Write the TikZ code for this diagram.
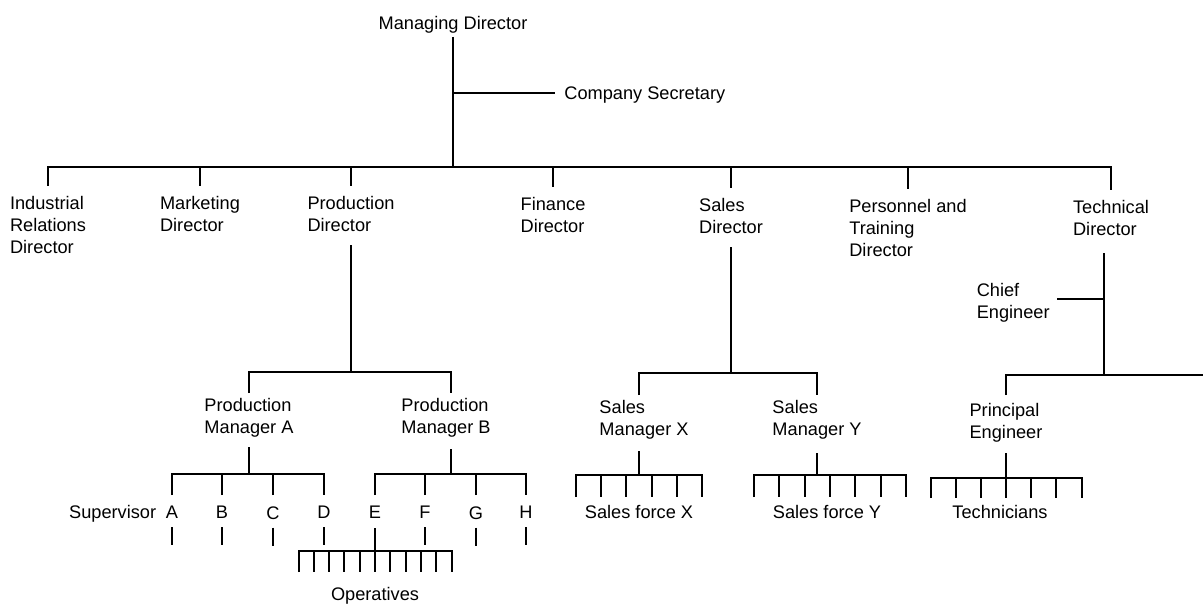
\documentclass[tikz,border=0pt]{standalone}
\usepackage{fontspec}
\setmainfont{Liberation Sans}
\usetikzlibrary{positioning}

\tikzset{
  post/.style={inner sep=0pt, align=left, font=\fontsize{9.1}{11}\selectfont},
  tie/.style={line width=1pt},
}

\begin{document}
\begin{tikzpicture}[x=0.5pt,y=-0.5pt]
  \useasboundingbox (0,0) rectangle (1203,604);

  % Managing Director and the board
  \coordinate (md-out) at (453,37);
  \coordinate (md-bus) at (453,167);
  \coordinate (cs-in) at (555,93);
  \node[post, above=1.5pt of md-out] (md) {Managing Director};
  \node[post, right=4.5pt of cs-in, yshift=-1pt] (cs) {Company Secretary};
  \draw[tie] (md-out) -- (md-bus);
  \draw[tie] (cs-in -| md-out) -- (cs-in);

  \foreach \n/\x/\y in {ird/48/186, mkd/200/186, pdr/351/186, fdr/553/187, sdr/731/188, ptd/908/189, tdr/1111/190}
    \coordinate (\n-in) at (\x,\y);
  \node[post, below=5pt of ird-in] (ird) {Industrial\\Relations\\Director};
  \node[post, below=5pt of mkd-in] (mkd) {Marketing\\Director};
  \node[post, below=5pt of pdr-in] (pdr) {Production\\Director};
  \node[post, below=5pt of fdr-in] (fdr) {Finance\\Director};
  \node[post, below=5pt of sdr-in] (sdr) {Sales\\Director};
  \node[post, below=5pt of ptd-in] (ptd) {Personnel and\\Training\\Director};
  \node[post, below=5pt of tdr-in] (tdr) {Technical\\Director};
  \draw[tie] (ird-in) |- (md-bus) -| (tdr-in);
  \foreach \n in {mkd, pdr, fdr, sdr, ptd}
    \draw[tie] (\n-in) -- (\n-in |- md-bus);

  % Production
  \coordinate (pdr-out) at (351,245);
  \coordinate (pdr-bus) at (351,372);
  \coordinate (pma-in) at (249,393);
  \coordinate (pmb-in) at (451,393);
  \node[post, below=2.5pt of pma-in] (pma) {Production\\Manager A};
  \node[post, below=2.5pt of pmb-in, xshift=-2.5pt] (pmb) {Production\\Manager B};
  \draw[tie] (pdr-out) -- (pdr-bus);
  \draw[tie] (pma-in) |- (pdr-bus) -| (pmb-in);

  \coordinate (pma-out) at (249,447);
  \coordinate (pma-bus) at (249,474);
  \coordinate (pmb-out) at (451,449);
  \coordinate (pmb-bus) at (451,474);
  \foreach \s/\x in {A/172, B/222, C/273, D/324, E/375, F/425, G/476, H/526} {
    \coordinate (sv\s-in) at (\x,495);
    \node[post, below=5.5pt of sv\s-in] (sv\s) {\s};
  }
  \node[post, anchor=base east] (sv) at ([xshift=-4.5pt]svA.base west) {Supervisor};
  \draw[tie] (pma-out) -- (pma-bus);
  \draw[tie] (svA-in) |- (pma-bus) -| (svD-in);
  \draw[tie] (pmb-out) -- (pmb-bus);
  \draw[tie] (svE-in) |- (pmb-bus) -| (svH-in);
  \foreach \s in {B, C, F, G}
    \draw[tie] (sv\s-in) -- (sv\s-in |- pma-bus);
  \foreach \s in {A, B, C, D, F, G, H}
    \draw[tie] (sv\s.south) ++(0,8) -- ++(0,18);

  % operatives under E
  \coordinate (op-bus) at (375,551);
  \draw[tie] (svE.south) ++(0,9) -- (op-bus);
  \draw[tie] (op-bus) ++(-76.5,21) -- ++(0,-21) -- ++(153,0) -- ++(0,21);
  \foreach \i in {-4,...,4}
    \draw[tie] (op-bus) ++(\i*15.3,0) -- ++(0,21);
  \node[post, below=18pt of op-bus] (op) {Operatives};

  % Sales
  \coordinate (sdr-out) at (731,247);
  \coordinate (sdr-bus) at (731,373);
  \coordinate (smx-in) at (639,395);
  \coordinate (smy-in) at (817,395);
  \node[post, below=2.5pt of smx-in, xshift=2.5pt] (smx) {Sales\\Manager X};
  \node[post, below=2.5pt of smy-in] (smy) {Sales\\Manager Y};
  \draw[tie] (sdr-out) -- (sdr-bus);
  \draw[tie] (smx-in) |- (sdr-bus) -| (smy-in);

  \coordinate (smx-out) at (639,451);
  \coordinate (smx-bus) at (639,475);
  \draw[tie] (smx-out) -- (smx-bus);
  \draw[tie] (smx-bus) ++(-63,22) -- ++(0,-22) -- ++(126,0) -- ++(0,22);
  \foreach \i in {-1.5,-0.5,...,1.5}
    \draw[tie] (smx-bus) ++(\i*25.2,0) -- ++(0,22);
  \node[post, below=15pt of smx-bus] (sfx) {Sales force X};

  \coordinate (smy-out) at (817,453);
  \coordinate (smy-bus) at (817,475);
  \draw[tie] (smy-out) -- (smy-bus);
  \draw[tie] (smy-bus) ++(-63,22) -- ++(0,-22) -- ++(152,0) -- ++(0,22);
  \foreach \i in {1,...,5}
    \draw[tie] (smy-bus) ++(-63+\i*25.33,0) -- ++(0,22);
  \node[post, below=15pt of smy-bus, xshift=5pt] (sfy) {Sales force Y};

  % Technical
  \coordinate (tdr-out) at (1104,253);
  \coordinate (tdr-bus) at (1104,375);
  \coordinate (ce-in) at (1057,299);
  \coordinate (tb-end) at (1203,375);
  \coordinate (pe-in) at (1006,395);
  \node[post, left=3.5pt of ce-in, yshift=-2pt] (ce) {Chief\\Engineer};
  \node[post, below=4pt of pe-in] (pe) {Principal\\Engineer};
  \draw[tie] (tdr-out) -- (tdr-bus);
  \draw[tie] (ce-in) -- (ce-in -| tdr-out);
  \draw[tie] (pe-in) |- (tb-end);

  \coordinate (pe-out) at (1006,453);
  \coordinate (pe-bus) at (1006,478);
  \draw[tie] (pe-out) -- (pe-bus) -- ++(0,20);
  \draw[tie] (pe-bus) ++(-75.5,20) -- ++(0,-20) -- ++(151,0) -- ++(0,20);
  \foreach \i in {-2,-1,1,2}
    \draw[tie] (pe-bus) ++(\i*25.17,0) -- ++(0,20);
  \node[post, below=13.5pt of pe-bus, xshift=-3pt] (tech) {Technicians};
  % \node (tb-lbl) at (1150,360) {};
\end{tikzpicture}
\end{document}
